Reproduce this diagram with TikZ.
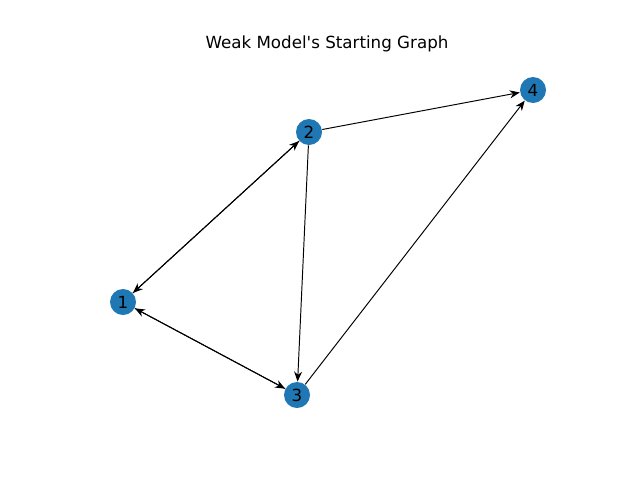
\documentclass[tikz,border=0pt]{standalone}
\usepackage{fontspec}
\setmainfont{DejaVu Sans}
\usetikzlibrary{arrows.meta}
\definecolor{nodeblue}{HTML}{1F77B4}
\begin{document}
\begin{tikzpicture}[-{Stealth[length=0.2cm, width=0.16cm]}, line width=0.55pt, main/.style = {circle, fill=nodeblue, minimum size=0.52cm, inner sep=0pt, font=\fontsize{9.5}{11}\selectfont}]
    \useasboundingbox (0,0) rectangle (12.8,9.6);
    \node[font=\fontsize{9.5}{11}\selectfont] (title) at (6.54,8.72) {Weak Model\textquotesingle s Starting Graph};
    \node[main] (1) at (2.46,3.56) {1};
    \node[main] (2) at (6.18,6.96) {2};
    \node[main] (3) at (5.94,1.70) {3};
    \node[main] (4) at (10.66,7.80) {4};

    \draw (1) -- (2);
    \draw (2) -- (1);
    \draw (1) -- (3);
    \draw (3) -- (1);
    \draw (2) -- (3);
    \draw (2) -- (4);
    \draw (3) -- (4);
\end{tikzpicture}
\end{document}
